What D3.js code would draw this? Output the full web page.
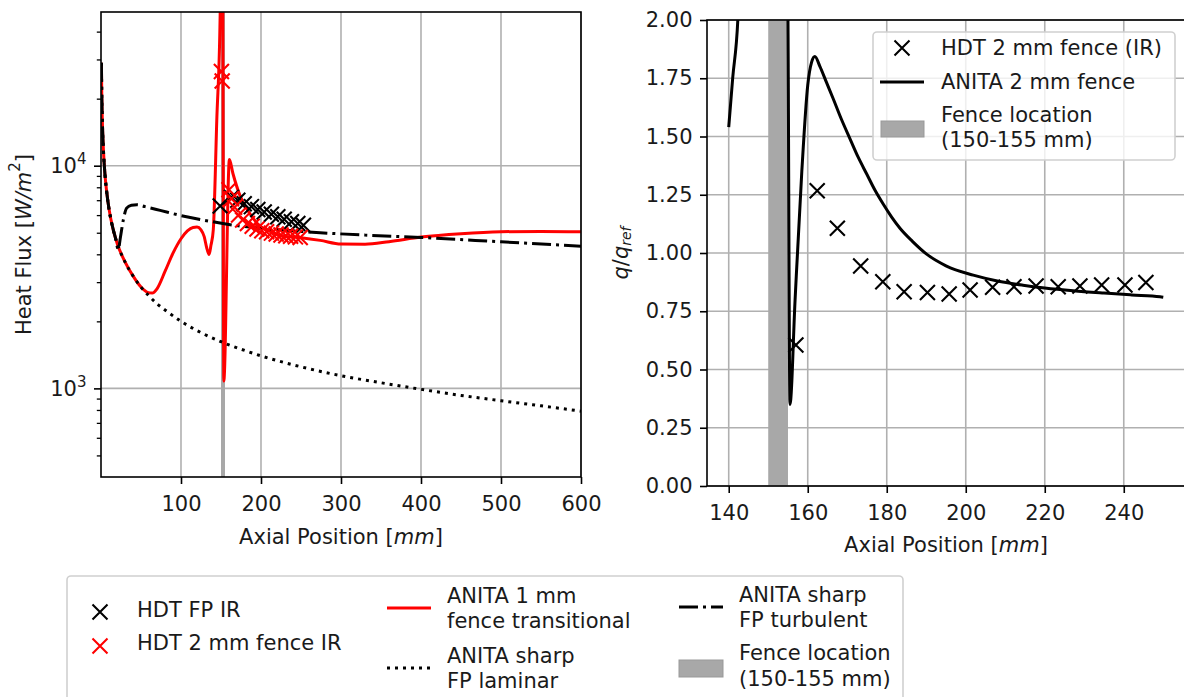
<!DOCTYPE html>
<html>
<head>
<meta charset="utf-8">
<script src="https://cdn.jsdelivr.net/npm/d3@7"></script>
<style>
body { margin: 0; background: #fff; }
svg text { font-family: "DejaVu Sans", sans-serif; fill: #1a1a1a; }
</style>
</head>
<body>
<script>
/* ---- left panel data (axial position mm, heat flux W/m2) ---- */
const lamX = [0.5,1,2,3,5,7,10,15,20,30,40,50,60,70,80,100,125,150,175,200,250,300,350,400,450,500,550,600];
const lamY = [29000,20500,14500,11800,9100,7700,6400,5200,4500,3700,3200,2850,2600,2400,2250,2000,1780,1620,1500,1400,1250,1140,1060,990,930,880,835,790];

const turbX = [0.5,1,2,3,5,7,10,14,18,21.7,24,28,32,38,45,55,74,100,136,175,225,274,330,400,500,600];
const turbY = [29000,20500,14500,11800,9100,7700,6400,5400,4750,4200,4700,5730,6450,6650,6680,6550,6300,5970,5630,5350,5150,5000,4880,4760,4550,4350];

const redX = [0.5,1,2,3,5,7,10,15,20,30,40,50,58,64,70,80,90,100,108,115,120,125,129,132,135,137.5,140.4,144.7,149,150,152,153.5,160.5,165,174,186,199,211,224,250,274,300,330,360,400,450,500,550,600];
const redY = [29000,20500,14500,11800,9100,7700,6400,5200,4500,3700,3200,2850,2700,2680,2800,3350,4050,4700,5100,5280,5300,5150,4800,4300,3990,4400,5170,15900,49000,90000,90000,1080,10650,9200,7300,6100,5340,5100,4850,4750,4620,4450,4440,4560,4780,4950,5050,5070,5050];

const hdtX = [149,163,171,179,188,196,204,213,221,229,238,246,253];
const hdtY = [6600,7200,7000,6750,6550,6350,6200,6050,5900,5750,5600,5500,5400];

const fenX = [150.5,151.5,160,163,167,172,177,183,189,195,201,207,213,219,225,231,237,243,249];
const fenY = [26500,24000,7800,7100,6500,6000,5700,5500,5350,5200,5100,5050,4980,4930,4880,4850,4820,4790,4760];

const fence = [150, 155];

/* ---- right panel data (q/q_ref) ---- */
const anX = [140,141,142.3,143.5,154.7,155,155.5,156.8,158.5,160,161,161.8,163.1,164.8,166.5,168.5,170.7,172.8,174.9,177,179.1,181.2,183.4,186.5,190.1,195,201.9,208,214.5,220,227.2,235,242,249.2,250];
const anY = [1.54,1.75,2.0,2.6,2.6,2.0,0.35,0.8,1.35,1.72,1.82,1.843,1.80,1.73,1.66,1.575,1.49,1.41,1.34,1.27,1.21,1.155,1.105,1.05,0.995,0.945,0.905,0.88,0.862,0.85,0.838,0.828,0.82,0.812,0.81];

const irX = [157,162.4,167.5,173.4,179,184.4,190.3,195.8,201.1,206.8,212.2,217.8,223.4,228.9,234.4,240.3,245.6];
const irY = [0.605,1.267,1.106,0.944,0.877,0.834,0.83,0.824,0.841,0.853,0.855,0.858,0.855,0.858,0.863,0.863,0.873];

/* ticks */
const leftXTicks = [100,200,300,400,500,600];
const leftYMajor = [1000,10000];
const leftYMinor = [500,600,700,800,900,2000,3000,4000,5000,6000,7000,8000,9000,20000,30000,40000];
const rightXTicks = [140,160,180,200,220,240];
const rightYTicks = [0,0.25,0.5,0.75,1,1.25,1.5,1.75,2];

/* legend labels */
const legBottom = [["HDT FP IR"],["HDT 2 mm fence IR"],["ANITA 1 mm","fence transitional"],["ANITA sharp","FP laminar"],["ANITA sharp","FP turbulent"],["Fence location","(150-155 mm)"]];
const legRight = [["HDT 2 mm fence (IR)"],["ANITA 2 mm fence"],["Fence location","(150-155 mm)"]];

const FS = 21;
const GRID = '#b0b0b0';
const FENCE = '#a8a8a8';
const DOT = '3,5', DASHDOT = '19,5,3,5';

const svg = d3.select('body').append('svg').attr('width', 1184).attr('height', 697);

const zip = (a, b) => a.map((v, i) => [v, b[i]]);

function xMarks(g, pts, sx, sy, color) {
   g.selectAll(null).data(pts).enter().append('path')
      .attr('transform', d => 'translate(' + sx(d[0]) + ',' + sy(d[1]) + ')')
      .attr('d', 'M-7.5,-7.5L7.5,7.5M-7.5,7.5L7.5,-7.5')
      .attr('stroke', color).attr('stroke-width', 2.1).attr('fill', 'none');
}

function styleAxis(g) {
   g.attr('font-family', null).attr('font-size', null);
   g.select('.domain').remove();
   g.selectAll('.tick line').attr('stroke', '#000').attr('stroke-width', 1.6);
   g.selectAll('.tick text').attr('font-size', FS).attr('fill', '#1a1a1a');
}

/* ================= LEFT PANEL ================= */
const L = { x0: 101, x1: 581, y0: 12, y1: 477 };
const xL = d3.scaleLinear().domain([0, 600]).range([L.x0, L.x1]);
const yL = d3.scaleLog().domain([400, 49000]).range([L.y1, L.y0]);

svg.append('clipPath').attr('id', 'clipL').append('rect')
   .attr('x', L.x0).attr('y', L.y0).attr('width', L.x1 - L.x0).attr('height', L.y1 - L.y0);

const gl = svg.append('g');
// grid
gl.selectAll(null).data(leftXTicks).enter().append('line')
   .attr('x1', d => xL(d)).attr('x2', d => xL(d)).attr('y1', L.y0).attr('y2', L.y1)
   .attr('stroke', GRID).attr('stroke-width', 1.6);
gl.selectAll(null).data(leftYMajor).enter().append('line')
   .attr('y1', d => yL(d)).attr('y2', d => yL(d)).attr('x1', L.x0).attr('x2', L.x1)
   .attr('stroke', GRID).attr('stroke-width', 1.6);

const pl = gl.append('g').attr('clip-path', 'url(#clipL)');
pl.append('rect').attr('x', xL(fence[0])).attr('width', xL(fence[1]) - xL(fence[0]))
   .attr('y', L.y0).attr('height', L.y1 - L.y0).attr('fill', FENCE);

const lineL = d3.line().x(d => xL(d[0])).y(d => yL(d[1])).curve(d3.curveMonotoneX);
pl.append('path').attr('d', lineL(zip(redX, redY))).attr('fill', 'none')
   .attr('stroke', 'red').attr('stroke-width', 3);
pl.append('path').attr('d', lineL(zip(lamX, lamY))).attr('fill', 'none')
   .attr('stroke', '#000').attr('stroke-width', 3).attr('stroke-dasharray', DOT);
pl.append('path').attr('d', lineL(zip(turbX, turbY))).attr('fill', 'none')
   .attr('stroke', '#000').attr('stroke-width', 3).attr('stroke-dasharray', DASHDOT);
xMarks(pl, zip(hdtX, hdtY), xL, yL, '#000');
xMarks(pl, zip(fenX, fenY), xL, yL, 'red');

// axes
const axLX = gl.append('g').attr('transform', 'translate(0,' + L.y1 + ')')
   .call(d3.axisBottom(xL).tickValues(leftXTicks).tickSize(7).tickPadding(12));
styleAxis(axLX);
const axLY = gl.append('g').attr('transform', 'translate(' + L.x0 + ',0)')
   .call(d3.axisLeft(yL).tickValues(leftYMajor).tickSize(7).tickPadding(7.5).tickFormat(''));
styleAxis(axLY);
axLY.selectAll('.tick text').each(function (d) {
   const t = d3.select(this).text('10');
   t.append('tspan').attr('font-size', 15).attr('dy', -9).text(Math.round(Math.log10(d)));
});
const axLYm = gl.append('g').attr('transform', 'translate(' + L.x0 + ',0)')
   .call(d3.axisLeft(yL).tickValues(leftYMinor).tickSize(4.2).tickFormat(''));
styleAxis(axLYm);
axLYm.selectAll('.tick line').attr('stroke-width', 1.3);

gl.append('rect').attr('x', L.x0).attr('y', L.y0).attr('width', L.x1 - L.x0).attr('height', L.y1 - L.y0)
   .attr('fill', 'none').attr('stroke', '#000').attr('stroke-width', 1.6);

const xlabL = gl.append('text').attr('x', (L.x0 + L.x1) / 2).attr('y', 537)
   .attr('text-anchor', 'middle').attr('dominant-baseline', 'central').attr('font-size', FS);
xlabL.append('tspan').text('Axial Position [');
xlabL.append('tspan').attr('font-style', 'italic').text('mm');
xlabL.append('tspan').text(']');

const ylabL = gl.append('text').attr('transform', 'translate(24,' + (L.y0 + L.y1) / 2 + ') rotate(-90)')
   .attr('text-anchor', 'middle').attr('dominant-baseline', 'central').attr('font-size', FS);
ylabL.append('tspan').text('Heat Flux [');
ylabL.append('tspan').attr('font-style', 'italic').text('W/m');
ylabL.append('tspan').attr('font-size', 15).attr('dy', -9).text('2');
ylabL.append('tspan').attr('dy', 9).text(']');

/* ================= RIGHT PANEL ================= */
const R = { x0: 707, x1: 1185, y0: 20, y1: 486 };
const xR = d3.scaleLinear().domain([134.5, 255.5]).range([R.x0, R.x1]);
const yR = d3.scaleLinear().domain([0, 2]).range([R.y1, R.y0]);

svg.append('clipPath').attr('id', 'clipR').append('rect')
   .attr('x', R.x0).attr('y', R.y0).attr('width', R.x1 - R.x0).attr('height', R.y1 - R.y0);

const gr = svg.append('g');
gr.selectAll(null).data(rightXTicks).enter().append('line')
   .attr('x1', d => xR(d)).attr('x2', d => xR(d)).attr('y1', R.y0).attr('y2', R.y1)
   .attr('stroke', GRID).attr('stroke-width', 1.6);
gr.selectAll(null).data(rightYTicks).enter().append('line')
   .attr('y1', d => yR(d)).attr('y2', d => yR(d)).attr('x1', R.x0).attr('x2', R.x1)
   .attr('stroke', GRID).attr('stroke-width', 1.6);

const pr = gr.append('g').attr('clip-path', 'url(#clipR)');
pr.append('rect').attr('x', xR(fence[0])).attr('width', xR(fence[1]) - xR(fence[0]))
   .attr('y', R.y0).attr('height', R.y1 - R.y0).attr('fill', FENCE);
const lineR = d3.line().x(d => xR(d[0])).y(d => yR(d[1])).curve(d3.curveMonotoneX);
pr.append('path').attr('d', lineR(zip(anX, anY))).attr('fill', 'none')
   .attr('stroke', '#000').attr('stroke-width', 3);
xMarks(pr, zip(irX, irY), xR, yR, '#000');

const axRX = gr.append('g').attr('transform', 'translate(0,' + R.y1 + ')')
   .call(d3.axisBottom(xR).tickValues(rightXTicks).tickSize(7).tickPadding(12));
styleAxis(axRX);
const axRY = gr.append('g').attr('transform', 'translate(' + R.x0 + ',0)')
   .call(d3.axisLeft(yR).tickValues(rightYTicks).tickSize(7).tickPadding(7.5).tickFormat(d3.format('.2f')));
styleAxis(axRY);

gr.append('rect').attr('x', R.x0).attr('y', R.y0).attr('width', R.x1 - R.x0).attr('height', R.y1 - R.y0)
   .attr('fill', 'none').attr('stroke', '#000').attr('stroke-width', 1.6);

const xlabR = gr.append('text').attr('x', (R.x0 + R.x1) / 2).attr('y', 545)
   .attr('text-anchor', 'middle').attr('dominant-baseline', 'central').attr('font-size', FS);
xlabR.append('tspan').text('Axial Position [');
xlabR.append('tspan').attr('font-style', 'italic').text('mm');
xlabR.append('tspan').text(']');

const ylabR = gr.append('text').attr('transform', 'translate(621,' + (R.y0 + R.y1) / 2 + ') rotate(-90)')
   .attr('text-anchor', 'middle').attr('dominant-baseline', 'central').attr('font-size', FS);
ylabR.append('tspan').attr('font-style', 'italic').text('q');
ylabR.append('tspan').text('/');
ylabR.append('tspan').attr('font-style', 'italic').text('q');
ylabR.append('tspan').attr('font-style', 'italic').attr('font-size', 14).attr('dy', 5).text('ref');

/* right legend */
const lr = svg.append('g');
lr.append('rect').attr('x', 873).attr('y', 32).attr('width', 302).attr('height', 128).attr('rx', 4)
   .attr('fill', 'white').attr('fill-opacity', 0.8).attr('stroke', '#d0d0d0').attr('stroke-width', 1.6);
xMarks(lr, [[902, 48]], d => d, d => d, '#000');
lr.append('line').attr('x1', 880).attr('x2', 924).attr('y1', 82).attr('y2', 82)
   .attr('stroke', '#000').attr('stroke-width', 3);
lr.append('rect').attr('x', 881).attr('y', 121).attr('width', 43).attr('height', 16)
   .attr('fill', FENCE).attr('stroke', '#999').attr('stroke-width', 1);
const legRY = [[48], [82], [115, 140]];
legRight.forEach((lines, i) => lines.forEach((s, j) =>
   lr.append('text').attr('x', 941).attr('y', legRY[i][j]).attr('dominant-baseline', 'central')
      .attr('font-size', FS).text(s)));

/* bottom legend */
const lb = svg.append('g');
lb.append('rect').attr('x', 67).attr('y', 576).attr('width', 836).attr('height', 150).attr('rx', 4)
   .attr('fill', 'white').attr('stroke', '#d0d0d0').attr('stroke-width', 1.6);
xMarks(lb, [[100, 612]], d => d, d => d, '#000');
xMarks(lb, [[100, 646]], d => d, d => d, 'red');
lb.append('line').attr('x1', 387).attr('x2', 431).attr('y1', 608).attr('y2', 608)
   .attr('stroke', 'red').attr('stroke-width', 3);
lb.append('line').attr('x1', 387).attr('x2', 431).attr('y1', 668).attr('y2', 668)
   .attr('stroke', '#000').attr('stroke-width', 3).attr('stroke-dasharray', DOT);
lb.append('line').attr('x1', 679).attr('x2', 723).attr('y1', 607).attr('y2', 607)
   .attr('stroke', '#000').attr('stroke-width', 3).attr('stroke-dasharray', DASHDOT);
lb.append('rect').attr('x', 679).attr('y', 660).attr('width', 44).attr('height', 17)
   .attr('fill', FENCE).attr('stroke', '#999').attr('stroke-width', 1);
const legBPos = [[137, [610]], [137, [643]], [447, [596, 621]], [447, [656, 681]], [739, [595, 620]], [739, [653, 679]]];
legBottom.forEach((lines, i) => lines.forEach((s, j) =>
   lb.append('text').attr('x', legBPos[i][0]).attr('y', legBPos[i][1][j]).attr('dominant-baseline', 'central')
      .attr('font-size', FS).text(s)));
</script>
</body>
</html>
